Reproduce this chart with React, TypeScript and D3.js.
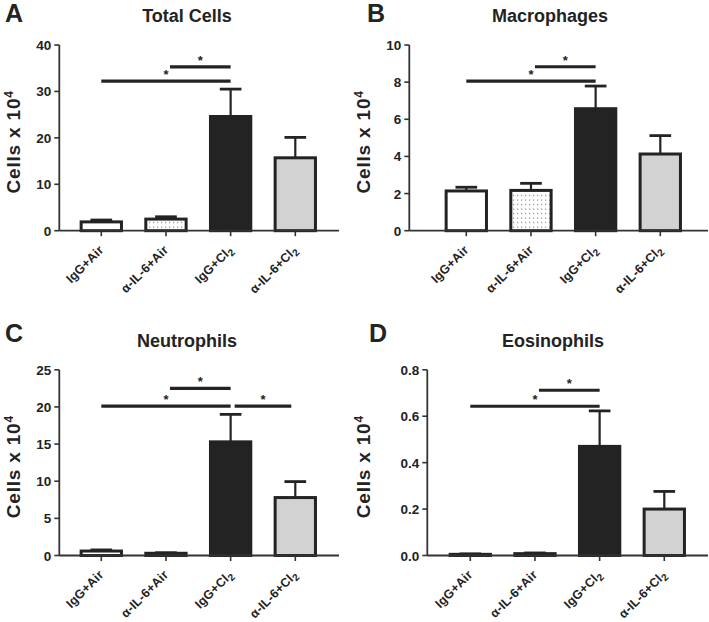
import React from "react";
import * as d3 from "d3";

const categories = ["IgG+Air", "α-IL-6+Air", "IgG+Cl2", "α-IL-6+Cl2"];

const totalMeans = [1.9, 2.5, 24.6, 15.7];
const totalSem = [0.4, 0.5, 5.9, 4.4];
const totalTicks = [0, 10, 20, 30, 40];

const macMeans = [2.14, 2.17, 6.57, 4.13];
const macSem = [0.2, 0.38, 1.22, 0.99];
const macTicks = [0, 2, 4, 6, 8, 10];

const neuMeans = [0.6, 0.3, 15.3, 7.8];
const neuSem = [0.15, 0.07, 3.7, 2.15];
const neuTicks = [0, 5, 10, 15, 20, 25];

const eosMeans = [0.005, 0.008, 0.47, 0.2];
const eosSem = [0.002, 0.003, 0.153, 0.076];
const eosTicks = [0, 0.2, 0.4, 0.6, 0.8];

const totalSig = [[0, 2, 32.2], [1, 2, 35.3]];
const macSig = [[0, 2, 8.05], [1, 2, 8.83]];
const neuSig = [[0, 2, 20.1], [1, 2, 22.5], [2, 3, 20.1]];
const eosSig = [[0, 2, 0.643], [1, 2, 0.712]];

const fills = ["#ffffff", "url(#dots)", "#232323", "#d2d2d2"];
const INK = "#232323";
const FONT = "'Liberation Sans', Arial, Helvetica, sans-serif";

type PanelProps = {
  letter: string;
  title: string;
  means: number[];
  sem: number[];
  ticks: number[];
  sig: number[][];
  ox: number;
  oy: number;
  axisX: number;
  firstCenter: number;
  xEnd: number;
  decimals: number;
  letterX: number;
  letterY: number;
  titleX: number;
};

function Panel(p: PanelProps) {
  const y0 = p.oy + 230.7;
  const yTop = p.oy + 45;
  const y = d3.scaleLinear().domain([0, p.ticks[p.ticks.length - 1]]).range([y0, yTop]);
  const x = d3
    .scaleBand<string>()
    .domain(categories)
    .range([p.ox + p.firstCenter - 35, p.ox + p.firstCenter + 245])
    .padding(0.33)
    .align(0.5);
  const bw = x.bandwidth();
  const cx = (i: number) => (x(categories[i]) as number) + bw / 2;
  const fmt = (v: number) => (p.decimals ? v.toFixed(p.decimals) : String(v));
  const ax = p.ox + p.axisX;
  const labelCenterY = (y0 + yTop) / 2 + 4;

  return (
    <g fontFamily={FONT} fontWeight="bold" fill={INK}>
      <text x={p.ox + p.letterX} y={p.letterY} fontSize={25}>
        {p.letter}
      </text>
      <text x={p.ox + p.titleX} y={p.oy + 21.7} fontSize={18} textAnchor="middle">
        {p.title}
      </text>
      {/* y label */}
      <text
        transform={`translate(${p.ox + 19.5},${labelCenterY}) rotate(-90)`}
        fontSize={19}
        letterSpacing={0.8}
        textAnchor="middle"
      >
        Cells x 10
        <tspan fontSize={12} dy={-7}>
          4
        </tspan>
      </text>
      {/* bars */}
      {p.means.map((m, i) => (
        <g key={i}>
          <line
            x1={cx(i)}
            x2={cx(i)}
            y1={y(m)}
            y2={y(m + p.sem[i])}
            stroke={INK}
            strokeWidth={2.2}
          />
          <line
            x1={cx(i) - bw / 4}
            x2={cx(i) + bw / 4}
            y1={y(m + p.sem[i])}
            y2={y(m + p.sem[i])}
            stroke={INK}
            strokeWidth={2.8}
          />
          <rect
            x={(x(categories[i]) as number) + 1.5}
            y={y(m)}
            width={bw - 3}
            height={Math.max(0, y0 - y(m))}
            fill={fills[i]}
            stroke={INK}
            strokeWidth={3}
          />
        </g>
      ))}
      {/* axes */}
      <line x1={ax} x2={ax} y1={yTop} y2={y0} stroke="#333" strokeWidth={1.8} />
      <line x1={ax} x2={p.ox + p.xEnd} y1={y0} y2={y0} stroke="#333" strokeWidth={1.8} />
      {p.ticks.map((t) => (
        <g key={t}>
          <line x1={ax - 5} x2={ax} y1={y(t)} y2={y(t)} stroke="#333" strokeWidth={1.6} />
          <text x={ax - 8} y={y(t) + 5} fontSize={13.5} textAnchor="end">
            {fmt(t)}
          </text>
        </g>
      ))}
      {categories.map((c, i) => {
        const sub = c.endsWith("Cl2");
        return (
          <g key={c}>
            <line x1={cx(i)} x2={cx(i)} y1={y0} y2={y0 + 5.5} stroke="#333" strokeWidth={1.6} />
            <text
              transform={`translate(${cx(i) + 3},${y0 + 20}) rotate(-45)`}
              fontSize={12.5}
              letterSpacing={0.2}
              textAnchor="end"
            >
              {sub ? c.slice(0, -1) : c}
              {sub ? (
                <tspan fontSize={10} dy={3}>
                  2
                </tspan>
              ) : null}
            </text>
          </g>
        );
      })}
      {/* significance */}
      {p.sig.map(([a, b, v], k) => {
        const x1 = a === 0 ? cx(a) : cx(a) + 4;
        const x2 = b === 3 ? cx(b) - 4 : cx(b);
        return (
          <g key={k}>
            <line x1={x1} x2={x2} y1={y(v)} y2={y(v)} stroke={INK} strokeWidth={3.2} />
            <text x={(x1 + x2) / 2} y={y(v) - 2} fontSize={13} textAnchor="middle">
              *
            </text>
          </g>
        );
      })}
    </g>
  );
}

export default function App() {
  return (
    <svg
      width={709}
      height={622}
      style={{ position: "absolute", left: 0, top: 0, background: "#fff" }}
    >
      <defs>
        <pattern id="dots" width={4} height={4.5} patternUnits="userSpaceOnUse">
          <rect width={4} height={4.5} fill="#fff" />
          <rect x={1} y={1.5} width={1.2} height={1.2} fill="#8a8a8a" />
        </pattern>
      </defs>
      <rect width={709} height={622} fill="#fff" />
      <Panel
        letter="A"
        title="Total Cells"
        means={totalMeans}
        sem={totalSem}
        ticks={totalTicks}
        sig={totalSig}
        ox={0}
        oy={0}
        axisX={59.3}
        firstCenter={93.3}
        xEnd={339}
        decimals={0}
        letterX={5}
        letterY={21.7}
        titleX={187}
      />
      <Panel
        letter="B"
        title="Macrophages"
        means={macMeans}
        sem={macSem}
        ticks={macTicks}
        sig={macSig}
        ox={350}
        oy={0}
        axisX={59.3}
        firstCenter={108.3}
        xEnd={358}
        decimals={0}
        letterX={17}
        letterY={21.7}
        titleX={200}
      />
      <Panel
        letter="C"
        title="Neutrophils"
        means={neuMeans}
        sem={neuSem}
        ticks={neuTicks}
        sig={neuSig}
        ox={0}
        oy={324.8}
        axisX={59.3}
        firstCenter={93.3}
        xEnd={339}
        decimals={0}
        letterX={5}
        letterY={342}
        titleX={187}
      />
      <Panel
        letter="D"
        title="Eosinophils"
        means={eosMeans}
        sem={eosSem}
        ticks={eosTicks}
        sig={eosSig}
        ox={350}
        oy={324.8}
        axisX={77.3}
        firstCenter={112.3}
        xEnd={358}
        decimals={1}
        letterX={19}
        letterY={342}
        titleX={203}
      />
    </svg>
  );
}
